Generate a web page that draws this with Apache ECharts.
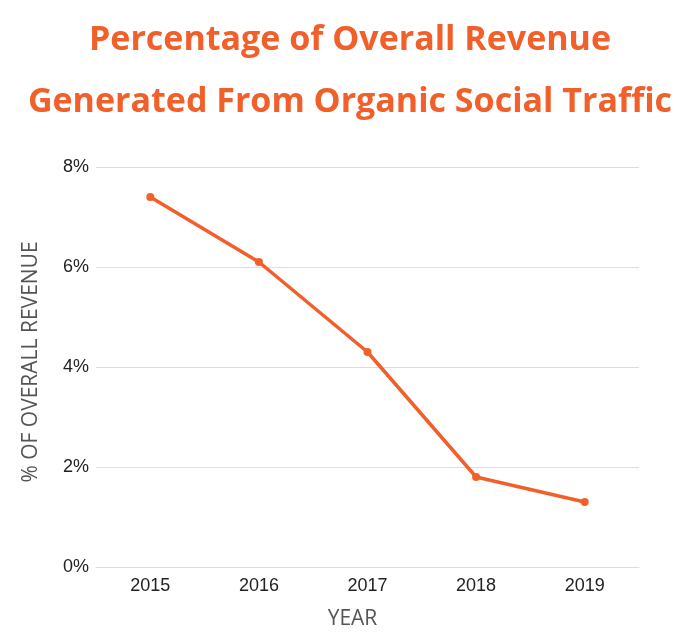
<!DOCTYPE html>
<html>
<head>
<meta charset="utf-8">
<script src="https://cdn.jsdelivr.net/npm/echarts@6/dist/echarts.min.js"></script>
<style>
html,body{margin:0;padding:0;background:#fff;}
#chart{width:700px;height:639px;}
</style>
</head>
<body>
<div id="chart"></div>
<script>
const years = ['2015', '2016', '2017', '2018', '2019'];
const revenueShare = [7.4, 6.1, 4.3, 1.8, 1.3];
const titleLine1 = 'Percentage of Overall Revenue';
const titleLine2 = 'Generated From Organic Social Traffic';
const xName = 'YEAR';
const yName = '% OF OVERALL REVENUE';

const orange = '#F15F2A';
const chart = echarts.init(document.getElementById('chart'), null, {renderer: 'canvas'});
chart.setOption({
  animation: false,
  backgroundColor: '#fff',
  title: [
    {text: titleLine1, left: 'center', top: 18,
     textStyle: {color: orange, fontFamily: 'Open Sans', fontWeight: 'bold', fontSize: 34}},
    {text: titleLine2, left: 'center', top: 80,
     textStyle: {color: orange, fontFamily: 'Open Sans', fontWeight: 'bold', fontSize: 34}}
  ],
  grid: {left: 96, right: 61, top: 167, bottom: 72, containLabel: false},
  xAxis: {
    type: 'category',
    data: years,
    boundaryGap: true,
    name: xName,
    nameLocation: 'middle',
    nameGap: 42,
    nameTextStyle: {color: '#555', fontFamily: 'Open Sans', fontSize: 21, padding: [0, 30, 0, 0]},
    axisLine: {show: true, lineStyle: {color: '#ddd', width: 1}},
    axisTick: {show: false},
    splitLine: {show: false},
    axisLabel: {color: '#222', fontFamily: 'Liberation Sans', fontSize: 18, margin: 10}
  },
  yAxis: {
    type: 'value',
    min: 0, max: 8, interval: 2,
    name: yName,
    nameLocation: 'middle',
    nameGap: 54,
    nameRotate: 90,
    nameTextStyle: {color: '#555', fontFamily: 'Open Sans', fontSize: 21, padding: [0, 0, 0, 10]},
    axisLine: {show: false},
    axisTick: {show: false},
    splitLine: {lineStyle: {color: '#ddd', width: 1}},
    axisLabel: {
      color: '#222', fontFamily: 'Liberation Sans', fontSize: 18, margin: 7,
      formatter: v => v + '%'
    }
  },
  series: [{
    type: 'line',
    data: revenueShare,
    lineStyle: {color: orange, width: 3.5},
    itemStyle: {color: orange},
    symbol: 'circle',
    symbolSize: 8
  }]
});
</script>
</body>
</html>
